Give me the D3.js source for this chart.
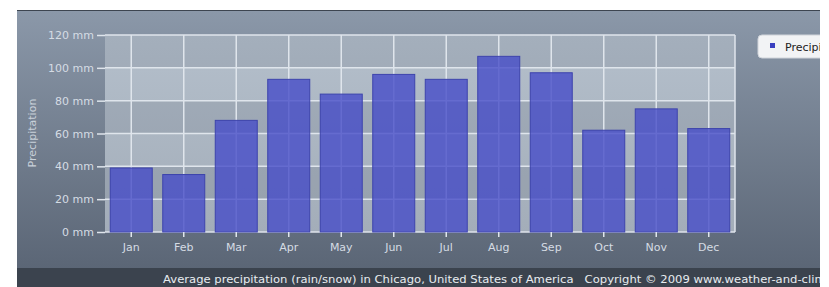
<!DOCTYPE html>
<html>
<head>
<meta charset="utf-8">
<script src="https://cdn.jsdelivr.net/npm/d3@7"></script>
<style>
  body { margin: 0; background: #fff; }
  text { font-family: "DejaVu Sans", sans-serif; }
</style>
</head>
<body>
<div id="chart"></div>
<script>
let months = ["Jan", "Feb", "Mar", "Apr", "May", "Jun", "Jul", "Aug", "Sep", "Oct", "Nov", "Dec"];
let precipitation = [39, 35, 68, 93, 84, 96, 93, 107, 97, 62, 75, 63];
let yTicks = [0, 20, 40, 60, 80, 100, 120];
let seriesName = "Precipitation";
let footerText = "Average precipitation (rain/snow) in Chicago, United States of America   Copyright \u00a9 2009 www.weather-and-climate.com";

let W = 829, H = 287;
let margin = {top: 35, right: 94, bottom: 55, left: 105};
let width = W - margin.left - margin.right;
let height = H - margin.top - margin.bottom;

let svg = d3.select("#chart")
    .append("svg")
    .attr("width", W)
    .attr("height", H);

let defs = svg.append("defs");
let grad = defs.append("linearGradient")
    .attr("id", "panelGrad")
    .attr("x1", 0).attr("y1", 0).attr("x2", 0).attr("y2", 1);
grad.append("stop").attr("offset", "0%").attr("stop-color", "#8b98a9");
grad.append("stop").attr("offset", "100%").attr("stop-color", "#5b6676");

let plotGrad = defs.append("linearGradient")
    .attr("id", "plotGrad")
    .attr("x1", 0).attr("y1", 0).attr("x2", 0).attr("y2", 1);
plotGrad.append("stop").attr("offset", "0%").attr("stop-color", "#b4bfcb");
plotGrad.append("stop").attr("offset", "100%").attr("stop-color", "#a3adb9");

let clip = defs.append("clipPath").attr("id", "panelClip");
clip.append("rect").attr("x", 17).attr("y", 10).attr("width", 803).attr("height", 277);

// outer panel
svg.append("rect")
    .attr("x", 17).attr("y", 10)
    .attr("width", 803).attr("height", 258)
    .attr("fill", "url(#panelGrad)");
svg.append("line")
    .attr("x1", 17).attr("x2", 820)
    .attr("y1", 10.5).attr("y2", 10.5)
    .attr("stroke", "#3d4550");

// footer
svg.append("rect")
    .attr("x", 17).attr("y", 268)
    .attr("width", 803).attr("height", 19)
    .attr("fill", "#3b434e");
svg.append("g").attr("clip-path", "url(#panelClip)")
    .append("text")
    .attr("x", 163).attr("y", 283)
    .attr("fill", "#e8ecf0")
    .attr("font-size", 11)
    .attr("textLength", 710)
    .attr("lengthAdjust", "spacingAndGlyphs")
    .style("white-space", "pre")
    .text(footerText);

let g = svg.append("g")
    .attr("transform", "translate(" + margin.left + "," + margin.top + ")");

let x = d3.scaleBand()
    .domain(months)
    .range([0, width])
    .paddingInner(0.2)
    .paddingOuter(0.1);
let y = d3.scaleLinear()
    .domain([0, 120])
    .range([height, 0]);

// plot background with alternating bands
g.append("rect")
    .attr("width", width).attr("height", height)
    .attr("fill", "url(#plotGrad)");
for (let i = 0; i < yTicks.length - 1; i++) {
    if (i % 2 === 1) {
        g.append("rect")
            .attr("x", 0)
            .attr("y", y(yTicks[i + 1]))
            .attr("width", width)
            .attr("height", y(yTicks[i]) - y(yTicks[i + 1]))
            .attr("fill", "#1e2a3a")
            .attr("fill-opacity", 0.1);
    }
}

// grid
g.selectAll(".hgrid")
    .data(yTicks)
    .enter()
    .append("line")
    .attr("x1", 0).attr("x2", width)
    .attr("y1", d => y(d)).attr("y2", d => y(d))
    .attr("stroke", "#dfe5ec")
    .attr("stroke-width", 1.5);
g.selectAll(".vgrid")
    .data(months)
    .enter()
    .append("line")
    .attr("x1", d => x(d) + x.bandwidth() / 2)
    .attr("x2", d => x(d) + x.bandwidth() / 2)
    .attr("y1", 0).attr("y2", height)
    .attr("stroke", "#dfe5ec")
    .attr("stroke-width", 1.5);
g.append("line")
    .attr("x1", width).attr("x2", width)
    .attr("y1", 0).attr("y2", height)
    .attr("stroke", "#dfe5ec")
    .attr("stroke-width", 1.5);

// bars
g.selectAll(".bar")
    .data(precipitation)
    .enter()
    .append("rect")
    .attr("x", (d, i) => x(months[i]))
    .attr("y", d => y(d))
    .attr("width", x.bandwidth())
    .attr("height", d => height - y(d))
    .attr("fill", "#464cc8")
    .attr("fill-opacity", 0.8)
    .attr("stroke", "#3d43ac")
    .attr("stroke-width", 1);

// axes
let yAxis = d3.axisLeft(y)
    .tickValues(yTicks)
    .tickFormat(d => d + " mm")
    .tickSize(8)
    .tickPadding(3);
let ya = g.append("g").call(yAxis);
ya.select(".domain").remove();
ya.selectAll("line").attr("stroke", "#dfe5ec").attr("stroke-width", 1.5);
ya.selectAll("text").attr("fill", "#d5dce4").attr("font-size", 11);

let xAxis = d3.axisBottom(x).tickSize(5).tickPadding(6);
let xa = g.append("g")
    .attr("transform", "translate(0," + height + ")")
    .call(xAxis);
xa.select(".domain").remove();
xa.selectAll("line").attr("stroke", "#dfe5ec").attr("stroke-width", 1.5);
xa.selectAll("text").attr("fill", "#d5dce4").attr("font-size", 11);

// y axis title
svg.append("text")
    .attr("transform", "translate(36,133) rotate(-90)")
    .attr("text-anchor", "middle")
    .attr("fill", "#c9d1da")
    .attr("font-size", 11)
    .text(seriesName);

// legend
let lg = svg.append("g").attr("clip-path", "url(#panelClip)");
lg.append("rect")
    .attr("x", 758).attr("y", 35)
    .attr("width", 90).attr("height", 23)
    .attr("rx", 4)
    .attr("fill", "#f2f3f5")
    .attr("stroke", "#d0d4da");
lg.append("rect")
    .attr("x", 770).attr("y", 43)
    .attr("width", 5).attr("height", 5)
    .attr("fill", "#3a3fc0");
lg.append("text")
    .attr("x", 785).attr("y", 51)
    .attr("fill", "#222")
    .attr("font-size", 11)
    .text(seriesName);
</script>
</body>
</html>
